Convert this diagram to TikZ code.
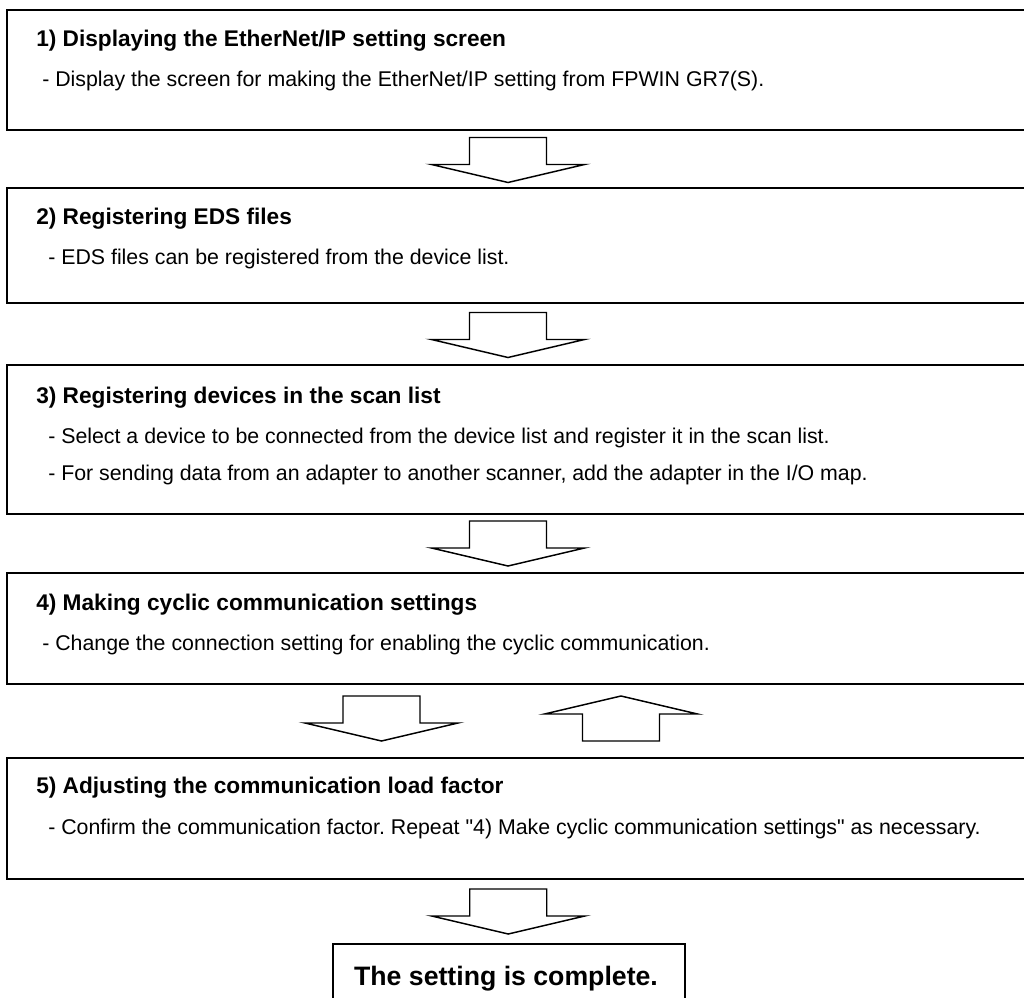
\documentclass[tikz,border=0pt]{standalone}
\usepackage{fontspec}
\setmainfont{Liberation Sans}
\newfontfamily\plainq{Liberation Sans}
\newcommand{\sq}{{\plainq"}}
\frenchspacing
\usetikzlibrary{calc}
\begin{document}
\begin{tikzpicture}
      [x=0.75pt,y=-0.75pt
      ,stepbox/.style={draw,line width=1.5pt,inner sep=0pt,outer sep=0pt,anchor=north west,minimum width=1023*0.75pt}
      ,head/.style={anchor=base west,inner sep=0pt,font=\bfseries\fontsize{17}{20}\selectfont}
      ,body/.style={anchor=base west,inner sep=0pt,font=\fontsize{16}{19}\selectfont}
      ,blk/.style={draw,line width=1.1pt,line join=miter}
      ,blockdown/.pic={\draw[blk] (-38.5,-22.5) -- (38.5,-22.5) -- (38.5,4.5) -- (76.5,4.5) -- (0,22.5) -- (-76.5,4.5) -- (-38.5,4.5) -- cycle;}
      ,blockup/.pic={\draw[blk] (-38.5,22.5) -- (38.5,22.5) -- (38.5,-4.5) -- (76.5,-4.5) -- (0,-22.5) -- (-76.5,-4.5) -- (-38.5,-4.5) -- cycle;}
      ]
        \clip (0,0) rectangle (1024,998);
        \useasboundingbox (0,0) rectangle (1024,998);
        % steps
        \node[stepbox,minimum height=120*0.75pt] (box1) at (7,10) {};
        \node[stepbox,minimum height=115*0.75pt] (box2) at (7,188) {};
        \node[stepbox,minimum height=149*0.75pt] (box3) at (7,365) {};
        \node[stepbox,minimum height=111*0.75pt] (box4) at (7,573) {};
        \node[stepbox,minimum height=121*0.75pt] (box5) at (7,758) {};
        \node[stepbox,minimum width=352*0.75pt,minimum height=80*0.75pt] (done) at (333,944) {};
        % texts
        \node[head] (t1) at ($(box1.north west)+(29,37)$) {1) Displaying the EtherNet/IP setting screen};
        \node[body] (b1) at ($(box1.north west)+(35,77)$) {- Display the screen for making the EtherNet/IP setting from FPWIN GR7(S).};
        \node[head] (t2) at ($(box2.north west)+(29,37)$) {2) Registering EDS files};
        \node[body] (b2) at ($(box2.north west)+(41,77)$) {- EDS files can be registered from the device list.};
        \node[head] (t3) at ($(box3.north west)+(29,38)$) {3) Registering devices in the scan list};
        \node[body] (b3a) at ($(box3.north west)+(41,78)$) {- Select a device to be connected from the device list and register it in the scan list.};
        \node[body] (b3b) at ($(box3.north west)+(41,115)$) {- For sending data from an adapter to another scanner, add the adapter in the I/O map.};
        \node[head] (t4) at ($(box4.north west)+(29,37)$) {4) Making cyclic communication settings};
        \node[body] (b4) at ($(box4.north west)+(35,77)$) {- Change the connection setting for enabling the cyclic communication.};
        \node[head] (t5) at ($(box5.north west)+(29,35)$) {5) Adjusting the communication load factor};
        \node[body] (b5) at ($(box5.north west)+(41,76)$) {- Confirm the communication factor. Repeat \sq4) Make cyclic communication settings\sq{} as necessary.};
        \node[anchor=base,inner sep=0pt,font=\bfseries\fontsize{20}{23}\selectfont] (dt) at ($(done.north)+(-3,41)$) {The setting is complete.};
        % arrows
        \pic at ($(box1.south)!.5!(box2.north)+(-10.5,1)$) {blockdown};
        \pic at ($(box2.south)!.5!(box3.north)+(-10.5,1)$) {blockdown};
        \pic at ($(box3.south)!.5!(box4.north)+(-10.5,0)$) {blockdown};
        \pic at ($(box4.south)!.5!(box5.north)+(-137,-2.5)$) {blockdown};
        \pic at ($(box4.south)!.5!(box5.north)+(102.5,-2.5)$) {blockup};
        \pic at ($(box5.south)!.5!(done.north)+(-5.5,0)$) {blockdown};
      \end{tikzpicture}
\end{document}
